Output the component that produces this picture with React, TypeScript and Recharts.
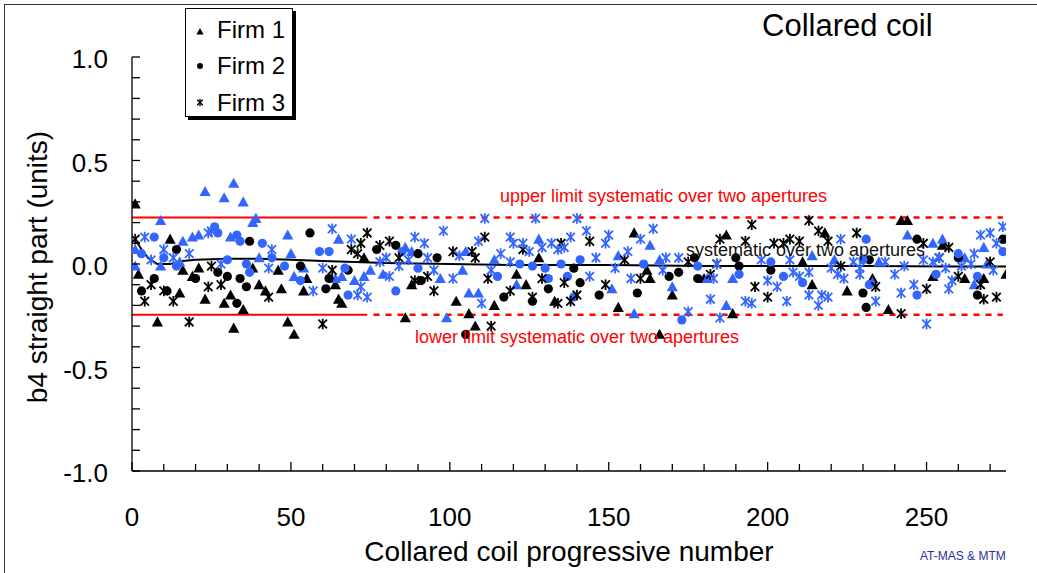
import React from 'react';
import { ScatterChart, Scatter, XAxis, YAxis, ReferenceLine, Legend } from 'recharts';

const W = 1037;
const H = 573;
const FONT = '"Liberation Sans", Arial, Helvetica, sans-serif';
const BLACK = '#000000';
const BLUE = '#3366ff';
const RED = '#ff0000';

// ---- axis ticks ----
const xTicks = [0, 10, 20, 30, 40, 50, 60, 70, 80, 90, 100, 110, 120, 130, 140, 150, 160, 170, 180, 190, 200, 210, 220, 230, 240, 250, 260, 270];
const xTickLabels = [0, 50, 100, 150, 200, 250];
const yTicks = [-1, -0.9, -0.8, -0.7, -0.6, -0.5, -0.4, -0.3, -0.2, -0.1, 0, 0.1, 0.2, 0.3, 0.4, 0.5, 0.6, 0.7, 0.8, 0.9, 1];
const yTickLabels = [-1, -0.5, 0, 0.5, 1];

// ---- limits ----
const upperLimit = 0.225;
const lowerLimit = -0.245;
const solidFrom = 0;
const solidTo = 74;
const dashFrom = 76;
const dashTo = 274;

// ---- systematic (moving average) ----
const sysX = [1, 3, 5, 8, 12, 16, 20, 30, 40, 50, 60, 70, 80, 100, 120, 150, 180, 200, 230, 260, 275];
const sysY = [0.12, 0.07, 0.03, 0.0, 0.0, 0.015, 0.02, 0.025, 0.025, 0.02, 0.015, 0.01, 0.005, 0.0, -0.005, -0.005, -0.01, -0.01, -0.01, -0.012, -0.012];

// ---- Firm 1 (triangles) ----
const firm1Ap1: [number, number][] = [[1,0.29],[2,-0.05],[8,-0.28],[12,0.12],[15,-0.14],[16,-0.03],[19,-0.06],[21,-0.02],[23,-0.17],[29,-0.19],[31,-0.15],[32,-0.31],[35,-0.22],[38,-0.02],[40,-0.10],[42,-0.13],[46,-0.03],[47,-0.12],[49,-0.28],[51,-0.34],[54,-0.13],[55,-0.07],[64,-0.10],[65,-0.17],[66,-0.19],[73,0.03],[86,-0.26],[88,-0.10],[102,-0.18],[106,-0.24],[108,-0.30],[114,-0.20],[121,-0.05],[124,-0.10],[128,0.03],[133,-0.18],[153,-0.21],[158,0.15],[162,-0.03],[163,-0.07],[166,-0.34],[170,-0.15],[180,-0.07],[187,0.14],[189,-0.24],[211,0.01],[214,-0.10],[218,0.15],[225,-0.13],[233,-0.07],[238,-0.22],[242,0.21],[244,0.21],[252,-0.06],[255,0.09],[262,-0.07],[268,-0.07],[275,-0.05]];
const firm1Ap2: [number, number][] = [[1,0.07],[1,-0.01],[9,0.21],[9,-0.01],[15,0.01],[16,0.11],[19,0.13],[21,0.14],[23,0.35],[29,0.32],[31,0.13],[32,0.39],[35,0.30],[38,0.20],[39,0.22],[40,0.03],[49,0.14],[50,0.05],[51,-0.06],[54,-0.02],[64,-0.07],[65,0.12],[66,-0.06],[70,-0.08],[73,-0.06],[75,-0.03],[79,-0.05],[86,0.08],[88,0.06],[97,-0.07],[99,-0.26],[104,-0.03],[105,0.06],[106,-0.14],[109,-0.14],[114,0.02],[121,-0.10],[128,0.12],[151,-0.12],[153,0.04],[158,-0.24],[163,0.09],[166,0.02],[170,-0.11],[181,-0.07],[187,-0.20],[189,-0.07],[214,0.04],[221,0.02],[233,-0.09],[235,0.01],[244,0.14],[252,0.10],[255,0.12],[262,0.03],[265,-0.10],[268,0.08],[269,0.00],[275,0.12]];

// ---- Firm 2 (circles) ----
const firm2Ap1: [number, number][] = [[3,-0.13],[7,-0.07],[11,-0.13],[14,0.07],[20,-0.07],[27,-0.04],[30,-0.06],[33,-0.19],[34,-0.07],[36,-0.11],[37,0.11],[53,-0.01],[56,0.15],[61,-0.12],[62,-0.07],[68,-0.03],[77,0.07],[83,0.09],[90,0.05],[91,-0.08],[96,0.03],[105,-0.34],[117,-0.16],[126,-0.18],[131,-0.12],[139,-0.02],[141,-0.09],[147,-0.15],[159,-0.14],[169,-0.06],[172,-0.04],[177,0.03],[178,-0.07],[190,0.03],[191,-0.01],[201,-0.03],[230,-0.14],[231,-0.21],[232,0.02],[247,0.12],[260,0.03],[266,-0.15],[274,0.12]];
const firm2Ap2: [number, number][] = [[3,0.05],[7,0.13],[10,0.03],[14,-0.01],[26,0.18],[27,0.15],[30,0.02],[33,0.14],[34,0.11],[36,0.00],[37,-0.04],[41,0.10],[44,0.03],[48,-0.01],[53,-0.08],[59,0.06],[62,0.06],[67,-0.02],[68,-0.15],[83,-0.13],[85,0.06],[90,-0.02],[115,-0.06],[122,0.00],[126,-0.01],[130,-0.02],[131,-0.07],[135,0.00],[137,-0.06],[139,-0.16],[141,0.02],[161,0.00],[173,-0.27],[178,-0.01],[191,-0.05],[201,0.01],[205,-0.06],[211,-0.09],[230,0.02],[231,0.12],[232,-0.10],[247,-0.15],[253,-0.05],[260,0.05],[266,-0.06],[274,0.06]];

// ---- Firm 3 (asterisks) ----
const firm3Ap1: [number, number][] = [[1,0.12],[4,-0.18],[6,-0.10],[10,-0.13],[13,-0.18],[18,-0.28],[24,-0.11],[25,-0.01],[28,-0.10],[43,-0.16],[60,-0.29],[63,-0.03],[69,0.07],[71,0.05],[72,0.10],[74,0.15],[78,0.09],[81,0.11],[84,0.03],[89,-0.08],[93,-0.06],[95,-0.13],[101,0.06],[107,0.06],[108,0.03],[111,0.13],[112,-0.07],[113,-0.30],[119,-0.13],[123,0.07],[126,-0.16],[129,-0.07],[134,-0.19],[135,0.10],[136,-0.09],[138,-0.18],[140,-0.15],[144,0.11],[149,-0.10],[155,0.02],[160,-0.07],[175,0.01],[182,-0.05],[184,0.00],[185,0.12],[193,0.11],[195,0.19],[196,-0.11],[200,-0.16],[202,0.10],[205,0.10],[207,0.12],[210,0.11],[213,0.21],[216,0.16],[219,0.11],[223,-0.01],[228,0.15],[234,-0.11],[242,-0.24],[249,0.10],[250,-0.12],[254,0.03],[257,0.08],[260,-0.06],[267,-0.10],[268,-0.17],[270,0.01],[272,-0.16]];
const firm3Ap2: [number, number][] = [[4,0.13],[6,0.02],[10,0.07],[13,0.03],[18,0.05],[24,0.15],[25,0.16],[28,0.00],[43,-0.02],[44,0.07],[57,-0.13],[60,-0.02],[63,0.17],[69,0.12],[71,-0.15],[72,-0.11],[74,-0.16],[78,0.01],[80,0.03],[81,-0.06],[84,-0.01],[87,0.02],[89,0.13],[92,0.10],[93,0.03],[95,-0.03],[98,0.16],[101,-0.07],[103,0.04],[109,0.11],[110,-0.19],[111,0.22],[113,-0.03],[116,0.05],[119,0.01],[119,0.13],[120,0.10],[123,0.10],[125,0.06],[127,0.22],[129,0.08],[132,0.10],[134,0.07],[136,0.08],[138,0.13],[140,0.22],[143,0.16],[144,-0.06],[146,0.03],[149,0.10],[150,0.14],[152,-0.02],[156,0.06],[157,-0.07],[160,0.12],[164,0.17],[167,-0.03],[168,0.03],[172,0.03],[175,-0.23],[182,-0.17],[183,-0.07],[184,0.00],[185,-0.26],[193,-0.18],[195,-0.19],[198,0.02],[200,-0.08],[203,-0.11],[206,-0.18],[207,0.02],[208,-0.04],[210,-0.06],[213,-0.04],[213,-0.15],[216,-0.20],[217,-0.15],[219,-0.16],[220,-0.02],[222,-0.05],[223,0.12],[224,-0.07],[227,0.01],[229,-0.02],[229,-0.05],[234,-0.18],[237,0.01],[240,-0.05],[242,-0.14],[243,-0.01],[246,-0.10],[249,0.02],[250,-0.29],[252,0.01],[254,0.03],[256,-0.02],[257,-0.12],[258,-0.08],[261,-0.01],[264,0.00],[265,0.05],[267,0.14],[270,0.15],[271,-0.03],[272,0.10],[274,0.18]];

const toPts = (arr: [number, number][]) => arr.map(([x, y]) => ({ x, y }));
const sysData = sysX.map((x, i) => ({ x, y: sysY[i] }));

// ---- marker shapes ----
const triangle = (color: string, s = 5.6) => (p: any) => {
  const { cx, cy } = p;
  if (cx == null || cy == null) return <g />;
  return <polygon points={`${cx},${cy - s} ${cx + s},${cy + s * 0.8} ${cx - s},${cy + s * 0.8}`} fill={color} />;
};
const circle = (color: string, r = 4.6) => (p: any) => {
  const { cx, cy } = p;
  if (cx == null || cy == null) return <g />;
  return <circle cx={cx} cy={cy} r={r} fill={color} />;
};
const star = (color: string, s = 4.3, w = 1.8) => (p: any) => {
  const { cx, cy } = p;
  if (cx == null || cy == null) return <g />;
  return (
    <g stroke={color} strokeWidth={w}>
      <line x1={cx - s} y1={cy - s} x2={cx + s} y2={cy + s} />
      <line x1={cx - s} y1={cy + s} x2={cx + s} y2={cy - s} />
      <line x1={cx} y1={cy - s - 1} x2={cx} y2={cy + s + 1} />
    </g>
  );
};
const noShape = () => <g />;

const isIn = (list: number[], v: number) => list.some((t) => Math.abs(t - v) < 1e-6);

const XTick = (props: any) => {
  const { x, y, payload } = props;
  const v = payload.value;
  const major = isIn(xTickLabels, v);
  return (
    <g>
      <line x1={x} x2={x} y1={y} y2={y - (major ? 9 : 7)} stroke={BLACK} strokeWidth={1.3} />
      {major && (
        <text x={x} y={y + 55} textAnchor="middle" fontSize={26} fontFamily={FONT} fill={BLACK}>
          {String(v)}
        </text>
      )}
    </g>
  );
};

const YTick = (props: any) => {
  const { x, y, payload } = props;
  const v = payload.value;
  const major = isIn(yTickLabels, v);
  return (
    <g>
      <line x1={x} x2={x + 8} y1={y} y2={y} stroke={BLACK} strokeWidth={1.3} />
      {major && (
        <text x={x - 24} y={y + 11} textAnchor="end" fontSize={26} fontFamily={FONT} fill={BLACK}>
          {(Math.abs(v) < 1e-9 ? 0 : v).toFixed(1)}
        </text>
      )}
    </g>
  );
};

const legendItems = [
  { name: 'Firm 1', kind: 'tri' },
  { name: 'Firm 2', kind: 'cir' },
  { name: 'Firm 3', kind: 'star' },
];

const LegendBox = () => (
  <div
    style={{
      width: 106,
      height: 107,
      border: '1px solid #000',
      background: '#fff',
      boxShadow: '3px 3px 0 #000',
    }}
  >
    <svg width={106} height={107}>
      {legendItems.map((it, i) => {
        const cy = [22.5, 57, 93.5][i];
        const base = [28.5, 65, 101.5][i];
        let sym;
        if (it.kind === 'tri') sym = triangle(BLACK, 3.6)({ cx: 14, cy });
        else if (it.kind === 'cir') sym = circle(BLACK, 3)({ cx: 14, cy });
        else sym = star(BLACK, 2.8, 1.4)({ cx: 14, cy });
        return (
          <g key={it.name}>
            {sym}
            <text x={31} y={base} fontSize={24} fontFamily={FONT} fill={BLACK}>
              {it.name}
            </text>
          </g>
        );
      })}
    </svg>
  </div>
);

export default function App() {
  return (
    <div style={{ position: 'absolute', left: 0, top: 0, width: W, height: H, overflow: 'hidden', background: '#fff' }}>
      <div
        style={{
          position: 'absolute',
          left: 4,
          top: 4,
          width: W + 10,
          height: H + 10,
          borderLeft: '1.5px solid #333',
          borderTop: '1.5px solid #333',
        }}
      />
      <div style={{ position: 'absolute', left: 0, top: 0 }}>
        <ScatterChart width={W} height={H} margin={{ top: 57, right: 31, bottom: 52, left: 72 }}>
          <XAxis
            type="number"
            dataKey="x"
            domain={[0, 275]}
            ticks={xTicks}
            interval={0}
            tickSize={0}
            tickMargin={0}
            tickLine={false}
            tick={<XTick />}
            axisLine={{ stroke: BLACK, strokeWidth: 1.3 }}
            height={50}
            allowDataOverflow
          />
          <YAxis
            type="number"
            dataKey="y"
            domain={[-1, 1]}
            ticks={yTicks}
            interval={0}
            tickSize={0}
            tickMargin={0}
            tickLine={false}
            tick={<YTick />}
            axisLine={{ stroke: BLACK, strokeWidth: 1.3 }}
            width={60}
            allowDataOverflow
          />
          <Legend
            layout="vertical"
            align="center"
            verticalAlign="middle"
            content={() => <LegendBox />}
            wrapperStyle={{ left: 185, top: 8, width: 108, height: 109 }}
          />
          <ReferenceLine segment={[{ x: solidFrom, y: upperLimit }, { x: solidTo, y: upperLimit }]} stroke={RED} strokeWidth={2} />
          <ReferenceLine segment={[{ x: solidFrom, y: lowerLimit }, { x: solidTo, y: lowerLimit }]} stroke={RED} strokeWidth={2} />
          <ReferenceLine segment={[{ x: dashFrom, y: upperLimit }, { x: dashTo, y: upperLimit }]} stroke={RED} strokeWidth={2.5} strokeDasharray="6 6" />
          <ReferenceLine segment={[{ x: dashFrom, y: lowerLimit }, { x: dashTo, y: lowerLimit }]} stroke={RED} strokeWidth={2.5} strokeDasharray="6 6" />
          <Scatter data={sysData} line={{ stroke: BLACK, strokeWidth: 2 }} shape={noShape} isAnimationActive={false} legendType="none" />
          <Scatter data={toPts(firm1Ap1)} shape={triangle(BLACK)} isAnimationActive={false} />
          <Scatter data={toPts(firm1Ap2)} shape={triangle(BLUE)} isAnimationActive={false} />
          <Scatter data={toPts(firm2Ap1)} shape={circle(BLACK)} isAnimationActive={false} />
          <Scatter data={toPts(firm2Ap2)} shape={circle(BLUE)} isAnimationActive={false} />
          <Scatter data={toPts(firm3Ap1)} shape={star(BLACK)} isAnimationActive={false} />
          <Scatter data={toPts(firm3Ap2)} shape={star(BLUE)} isAnimationActive={false} />
        </ScatterChart>
      </div>
      <svg width={W} height={H} style={{ position: 'absolute', left: 0, top: 0, pointerEvents: 'none' }}>
        <text x={762} y={36} fontSize={31} fontFamily={FONT} fill={BLACK}>Collared coil</text>
        <text x={500} y={202} fontSize={18} fontFamily={FONT} fill={RED}>upper limit systematic over two apertures</text>
        <text x={415} y={343} fontSize={18} fontFamily={FONT} fill={RED}>lower limit systematic over two apertures</text>
        <text x={686} y={256} fontSize={18} fontFamily={FONT} fill="#111">systematic over two apertures</text>
        <text x={920} y={560} fontSize={12} fontFamily={FONT} fill="#2a2aa0">AT-MAS &amp; MTM</text>
        <text x={569} y={561} textAnchor="middle" fontSize={28} fontFamily={FONT} fill={BLACK}>Collared coil progressive number</text>
        <text
          x={0}
          y={0}
          transform="translate(47,267) rotate(-90)"
          textAnchor="middle"
          fontSize={28}
          fontFamily={FONT}
          fill={BLACK}
        >
          b4 straight part (units)
        </text>
      </svg>
    </div>
  );
}
